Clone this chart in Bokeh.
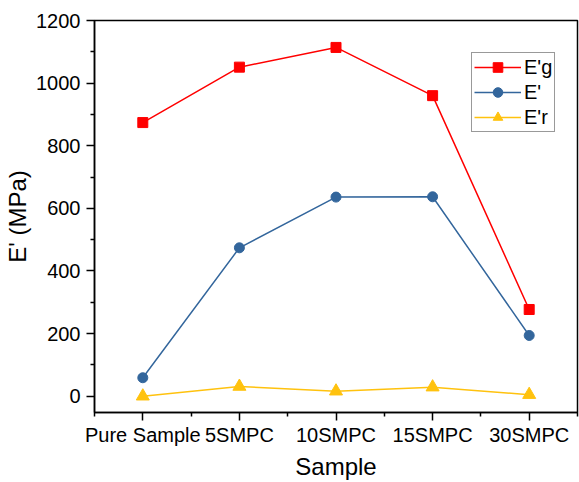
from bokeh.plotting import figure
from bokeh.models import FixedTicker, Range1d, Legend, LegendItem
from bokeh.embed import file_html
from bokeh.resources import INLINE

samples = ["Pure Sample", "5SMPC", "10SMPC", "15SMPC", "30SMPC"]
e_g = [874, 1051, 1114, 960, 277]
e_p = [59, 474, 636, 637, 194]
e_r = [0, 31, 16, 29, 5]
y_ticks = [0, 200, 400, 600, 800, 1000, 1200]
y_minor = [-100, 100, 300, 500, 700, 900, 1100]

xs = list(range(len(samples)))

FONT = "Liberation Sans"
RED = "#FF0000"
BLUE = "#33669C"
YEL = "#FFC20E"

p = figure(width=579, height=482, output_backend="svg", toolbar_location=None,
           x_range=Range1d(-0.5, 4.5), y_range=Range1d(-52, 1200),
           min_border_left=94, min_border_right=2, min_border_top=20, min_border_bottom=70)
p.grid.visible = False
p.outline_line_color = "black"
p.outline_line_width = 1.5
p.background_fill_color = "white"
p.border_fill_color = "white"

l1 = p.line(xs, e_g, line_color=RED, line_width=1.5)
m1 = p.scatter(xs, e_g, marker="square", size=10, fill_color=RED, line_color=RED)
l2 = p.line(xs, e_p, line_color=BLUE, line_width=1.5)
m2 = p.scatter(xs, e_p, marker="circle", size=10, fill_color=BLUE, line_color=BLUE)
l3 = p.line(xs, e_r, line_color=YEL, line_width=1.5)
m3 = p.scatter(xs, e_r, marker="triangle", size=13, fill_color=YEL, line_color=YEL)

xa = p.xaxis[0]
xa.ticker = FixedTicker(ticks=xs, minor_ticks=[-0.5, 0.5, 1.5, 2.5, 3.5, 4.5])
xa.major_label_overrides = {i: s for i, s in enumerate(samples)}
ya = p.yaxis[0]
ya.ticker = FixedTicker(ticks=y_ticks, minor_ticks=y_minor)

for ax in (xa, ya):
    ax.axis_line_color = "black"
    ax.axis_line_width = 1.5
    ax.major_tick_line_color = "black"
    ax.major_tick_line_width = 1.5
    ax.minor_tick_line_color = "black"
    ax.minor_tick_line_width = 1.5
    ax.major_tick_out = 8
    ax.major_tick_in = 0
    ax.minor_tick_out = 4
    ax.minor_tick_in = 0
    ax.major_label_text_font = FONT
    ax.major_label_text_font_size = "20px"
    ax.major_label_text_color = "black"
    ax.axis_label_text_font = FONT
    ax.axis_label_text_font_size = "24px"
    ax.axis_label_text_font_style = "normal"
    ax.axis_label_text_color = "black"

xa.axis_label = "Sample"
xa.major_label_standoff = 3
xa.axis_label_standoff = 4
ya.axis_label = "E' (MPa)"
ya.major_label_standoff = 6
ya.axis_label_standoff = 2

legend = Legend(items=[
    LegendItem(label="E'g", renderers=[l1, m1]),
    LegendItem(label="E'", renderers=[l2, m2]),
    LegendItem(label="E'r", renderers=[l3, m3]),
], location=(377, 280))
legend.label_text_font = FONT
legend.label_text_font_size = "20px"
legend.label_text_color = "black"
legend.glyph_width = 47
legend.glyph_height = 24
legend.label_height = 24
legend.label_standoff = 3
legend.padding = 2
legend.spacing = 1
legend.margin = 0
legend.border_line_color = "#333333"
legend.border_line_width = 1
legend.background_fill_alpha = 1
p.add_layout(legend, "center")

open("out.html", "w").write(file_html(p, INLINE))
